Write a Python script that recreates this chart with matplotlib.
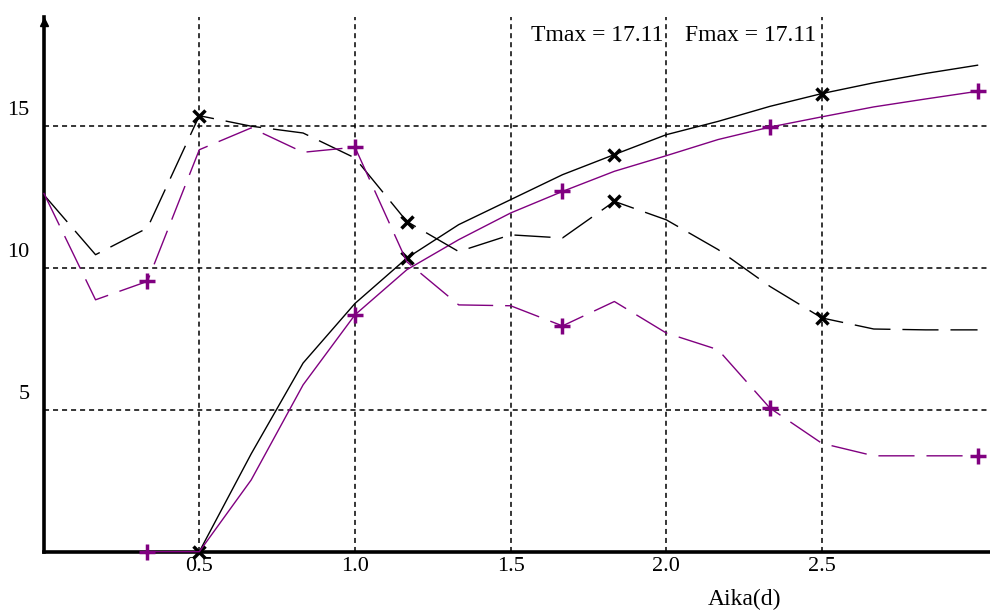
import numpy as np
import matplotlib
matplotlib.use("Agg")
import matplotlib.pyplot as plt
import matplotlib.transforms as mtransforms

# x grid: steps of 1/6 day
x_days = np.arange(19) / 6.0

# solid curves (start at 0.5 / 1/3)
t_solid = [0.0, 3.45, 6.65, 8.75, 10.35, 11.53, 12.41, 13.29, 14.0, 14.70,
           15.17, 15.70, 16.15, 16.53, 16.86, 17.15]          # from x=0.5
f_solid = [0.0, 0.0, 2.53, 5.88, 8.35, 9.94, 11.0, 11.94, 12.70, 13.41,
           13.96, 14.53, 14.97, 15.33, 15.68, 15.96, 16.23]   # from x=1/3

# dashed curves (whole range)
t_dash = [12.59, 10.47, 11.41, 15.37, 15.0, 14.76, 13.88, 11.64, 10.58, 11.17,
          11.06, 12.35, 11.70, 10.65, 9.35, 8.24, 7.85, 7.82, 7.82]
f_dash = [12.65, 8.88, 9.53, 14.17, 14.94, 14.08, 14.26, 10.22, 8.70, 8.67,
          7.96, 8.82, 7.71, 7.12, 5.06, 3.82, 3.38, 3.38, 3.38]

x_ticks = [0.5, 1.0, 1.5, 2.0, 2.5]
x_tick_labels = ["0.5", "1.0", "1.5", "2.0", "2.5"]
y_ticks = [5, 10, 15]
y_tick_labels = ["5", "10", "15"]

t_max = 17.11
f_max = 17.11

purple = "#800080"
font = "Liberation Serif"

fig = plt.figure(figsize=(9.9, 6.13), dpi=100)
ax = fig.add_axes([0.0441, 0.1, 0.9559, 0.8723])

ax.set_xlim(0, 3.04)
ax.set_ylim(0, 18.85)

# grid
for xv in x_ticks:
    ax.axvline(xv, color="black", lw=1.1, dashes=(3.3, 2.6), zorder=1)
for yv in y_ticks:
    ax.axhline(yv, color="black", lw=1.1, dashes=(3.3, 2.6), zorder=1)

# curves
ax.plot(x_days[3:], t_solid, color="black", lw=1.0, marker="x", ms=9, mew=2.5,
        markevery=4, zorder=3, clip_on=False)
ax.plot(x_days[2:], f_solid, color=purple, lw=1.0, marker="+", ms=11, mew=2.5,
        markevery=4, zorder=3, clip_on=False)
ax.plot(x_days, t_dash, color="black", lw=1.0, dashes=(26, 8.6), marker="x",
        ms=9, mew=2.5, markevery=[3, 7, 11, 15], zorder=3)
ax.plot(x_days, f_dash, color=purple, lw=1.0, dashes=(26, 8.6), marker="+",
        ms=11, mew=2.5, markevery=[2, 6, 10, 14, 18], zorder=3, clip_on=False)

# axes look
for side in ["top", "right"]:
    ax.spines[side].set_visible(False)
ax.spines["left"].set_linewidth(2.6)
ax.spines["bottom"].set_linewidth(2.6)
ax.spines["bottom"].set_bounds(0, 3.04)
ax.plot(0, 0.99, marker="^", color="black", ms=6, transform=ax.transAxes,
        clip_on=False, zorder=5)

ax.set_xticks(x_ticks)
ax.set_xticklabels(x_tick_labels, family=font, fontsize=16)
ax.set_yticks(y_ticks)
ax.set_yticklabels(y_tick_labels, family=font, fontsize=16)
ax.tick_params(axis="both", length=0)
ax.tick_params(axis="x", pad=4)
ax.tick_params(axis="y", pad=10)
shift = mtransforms.ScaledTranslation(0, 0.06, fig.dpi_scale_trans)
for lab in ax.get_yticklabels():
    lab.set_va("bottom")
    lab.set_transform(lab.get_transform() + shift)

ax.text(2.25, -0.09, "Aika(d)", transform=ax.get_xaxis_transform(),
        ha="center", va="center", family=font, fontsize=17)
ax.text(1.565, 18.2, "Tmax = %.2f" % t_max, ha="left", va="center",
        family=font, fontsize=17)
ax.text(2.06, 18.2, "Fmax = %.2f" % f_max, ha="left", va="center",
        family=font, fontsize=17)

fig.savefig("out.png", dpi=100)
